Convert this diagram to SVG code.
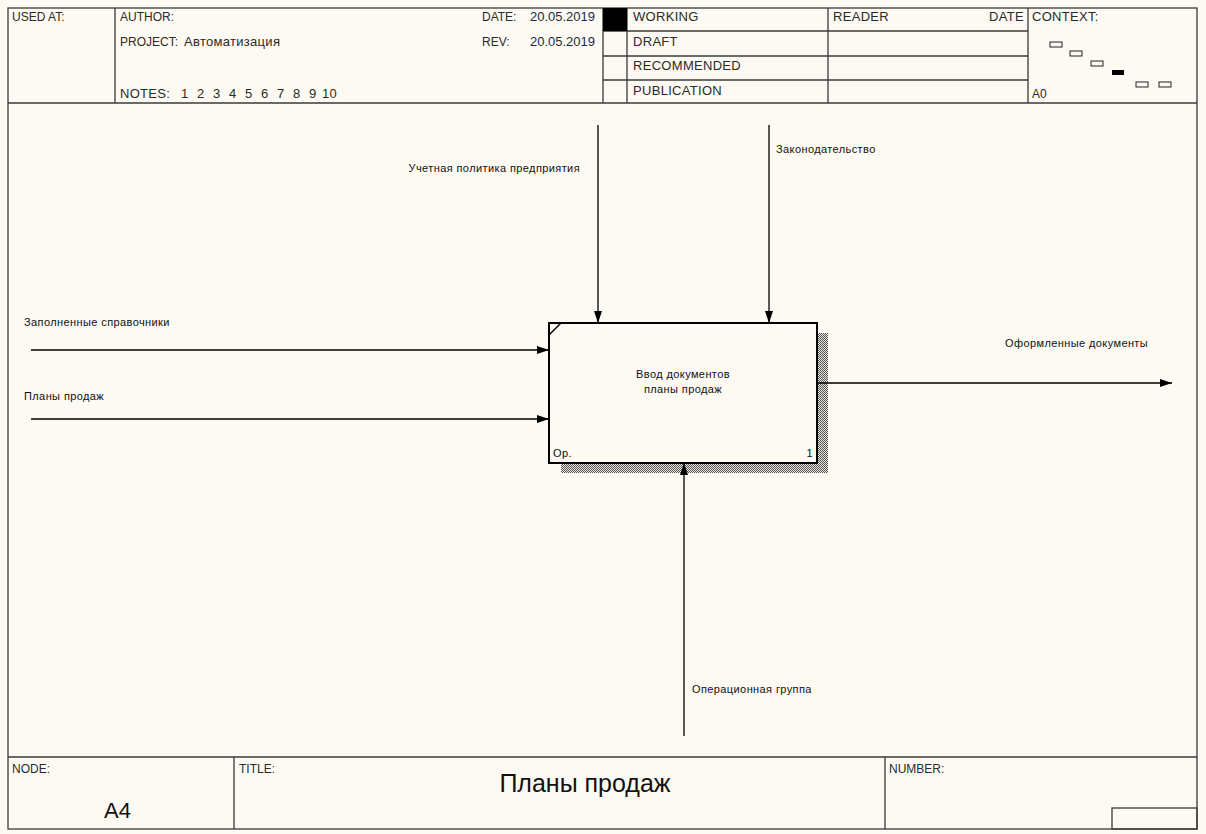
<svg xmlns="http://www.w3.org/2000/svg" width="1206" height="834" viewBox="0 0 1206 834">
<style>
.frame{fill:none;stroke:#3a3a3a;stroke-width:1.3}
.hdr{font-family:"Liberation Sans",Arial,sans-serif;font-size:13px;letter-spacing:0.3px;fill:#2a2a2a}
.sm{font-family:"Liberation Sans",Arial,sans-serif;font-size:12px;fill:#2a2a2a}
.date{font-family:"Liberation Sans",Arial,sans-serif;font-size:13px;fill:#1e2a44}
.big{font-family:"Liberation Sans",Arial,sans-serif;font-size:22px;fill:#111}
.lbl{font-family:"Liberation Sans",Arial,sans-serif;font-size:11px;letter-spacing:0.4px;fill:#111}
.ctx{fill:none;stroke:#222;stroke-width:1}
.arrow{fill:none;stroke:#000;stroke-width:1.3}
.box{fill:#fcfaf2;stroke:#000;stroke-width:2}
</style>
<defs>
<marker id="ah" viewBox="0 0 12 8" refX="12" refY="4" markerWidth="12" markerHeight="8" markerUnits="userSpaceOnUse" orient="auto">
<path d="M0,0 L12,4 L0,8 Z" fill="#000"/>
</marker>
<pattern id="hatch" width="2" height="2" patternUnits="userSpaceOnUse">
<rect width="2" height="2" fill="#e8e6de"/>
<rect width="1" height="1" fill="#555"/>
<rect x="1" y="1" width="1" height="1" fill="#555"/>
</pattern>
</defs>
<rect x="0" y="0" width="1206" height="834" fill="#fcfaf2"/>
<g id="header">
<rect class="frame" x="8" y="8" width="1189" height="821"/>
<line class="frame" x1="8" y1="103" x2="1197" y2="103"/>
<line class="frame" x1="115" y1="8" x2="115" y2="103"/>
<line class="frame" x1="603" y1="8" x2="603" y2="103"/>
<line class="frame" x1="627" y1="8" x2="627" y2="103"/>
<line class="frame" x1="828" y1="8" x2="828" y2="103"/>
<line class="frame" x1="1028" y1="8" x2="1028" y2="103"/>
<line class="frame" x1="603" y1="31" x2="1028" y2="31"/>
<line class="frame" x1="603" y1="56" x2="1028" y2="56"/>
<line class="frame" x1="603" y1="80" x2="1028" y2="80"/>
<rect x="603" y="8" width="24" height="23" fill="#000"/>
<text class="sm" x="12" y="21">USED AT:</text>
<text class="sm" x="120" y="21">AUTHOR:</text>
<text class="sm" x="120" y="46">PROJECT:</text>
<text class="hdr" x="184" y="46">Автоматизация</text>
<text class="hdr" x="120" y="98">NOTES:</text>
<text class="hdr" y="98"><tspan x="181">1</tspan><tspan x="197">2</tspan><tspan x="213">3</tspan><tspan x="229">4</tspan><tspan x="245">5</tspan><tspan x="261">6</tspan><tspan x="277">7</tspan><tspan x="293">8</tspan><tspan x="309">9</tspan><tspan x="322">10</tspan></text>
<text class="sm" x="482" y="21">DATE:</text>
<text class="date" x="595" y="21" text-anchor="end">20.05.2019</text>
<text class="sm" x="482" y="46">REV:</text>
<text class="date" x="595" y="46" text-anchor="end">20.05.2019</text>
<text class="hdr" x="633" y="21">WORKING</text>
<text class="hdr" x="633" y="46">DRAFT</text>
<text class="hdr" x="633" y="70">RECOMMENDED</text>
<text class="hdr" x="633" y="95">PUBLICATION</text>
<text class="hdr" x="833" y="21">READER</text>
<text class="hdr" x="1024" y="21" text-anchor="end">DATE</text>
<text class="hdr" x="1032" y="21">CONTEXT:</text>
<text class="sm" x="1032" y="98">A0</text>
<rect class="ctx" x="1050" y="42" width="12" height="5"/>
<rect class="ctx" x="1070" y="51" width="12" height="5"/>
<rect class="ctx" x="1091" y="61" width="12" height="5"/>
<rect x="1112" y="70" width="12" height="5" fill="#000"/>
<rect class="ctx" x="1136" y="82" width="12" height="5"/>
<rect class="ctx" x="1159" y="82" width="12" height="5"/>
</g>
<g id="footer">
<line class="frame" x1="8" y1="757" x2="1197" y2="757"/>
<line class="frame" x1="234" y1="757" x2="234" y2="829"/>
<line class="frame" x1="885" y1="757" x2="885" y2="829"/>
<rect class="frame" x="1112" y="808" width="85" height="21"/>
<text class="sm" x="12" y="773">NODE:</text>
<text class="big" x="104" y="818">A4</text>
<text class="sm" x="239" y="773">TITLE:</text>
<text class="big" x="585" y="792" text-anchor="middle" style="font-size:25px">Планы продаж</text>
<text class="sm" x="889" y="773">NUMBER:</text>
</g>
<g id="node-A1">
<rect x="561" y="333" width="267" height="140" fill="url(#hatch)"/>
<rect x="549" y="323" width="268" height="140" class="box"/>
<line x1="549" y1="335" x2="561" y2="323" stroke="#000" stroke-width="1.5"/>
<text class="lbl" x="683" y="378" text-anchor="middle">Ввод документов</text>
<text class="lbl" x="683" y="393" text-anchor="middle">планы продаж</text>
<text class="lbl" x="553" y="457">Ор.</text>
<text class="lbl" x="813" y="457" text-anchor="end">1</text>
</g>
<g id="connectors">
<line class="arrow" x1="598" y1="125" x2="598" y2="323" marker-end="url(#ah)"/>
<line class="arrow" x1="769" y1="125" x2="769" y2="323" marker-end="url(#ah)"/>
<line class="arrow" x1="31" y1="350" x2="549" y2="350" marker-end="url(#ah)"/>
<line class="arrow" x1="31" y1="419" x2="549" y2="419" marker-end="url(#ah)"/>
<line class="arrow" x1="817" y1="383" x2="1172" y2="383" marker-end="url(#ah)"/>
<line class="arrow" x1="684" y1="736" x2="684" y2="463" marker-end="url(#ah)"/>
<text class="lbl" x="580" y="172" text-anchor="end">Учетная политика предприятия</text>
<text class="lbl" x="776" y="153">Законодательство</text>
<text class="lbl" x="24" y="326">Заполненные справочники</text>
<text class="lbl" x="24" y="400">Планы продаж</text>
<text class="lbl" x="1005" y="347">Оформленные документы</text>
<text class="lbl" x="692" y="693">Операционная группа</text>
</g>
</svg>
